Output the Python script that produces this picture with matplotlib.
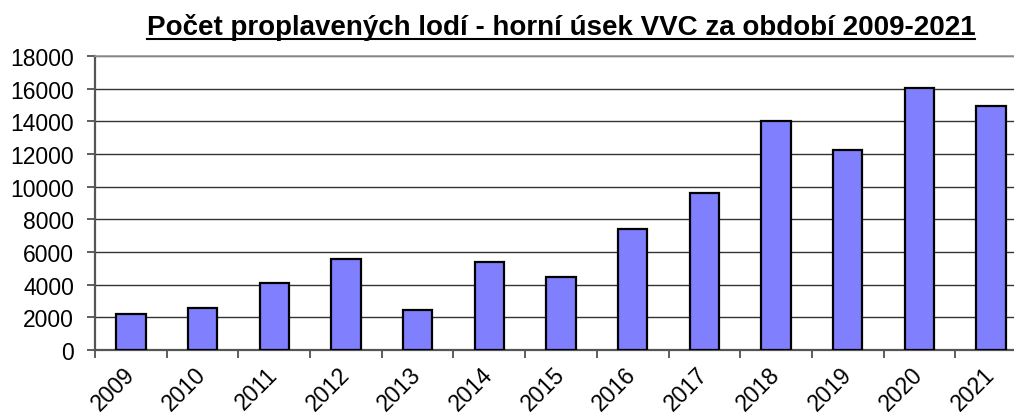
import matplotlib.pyplot as plt
from matplotlib.lines import Line2D
import numpy as np

plt.rcParams['font.family'] = ['Liberation Sans', 'DejaVu Sans']

years = ['2009', '2010', '2011', '2012', '2013', '2014', '2015',
         '2016', '2017', '2018', '2019', '2020', '2021']
ships = [2200, 2600, 4100, 5550, 2470, 5410, 4450,
         7390, 9630, 14020, 12260, 16040, 14940]
title = 'Počet proplavených lodí - horní úsek VVC za období 2009-2021'

fig = plt.figure(figsize=(10.14, 4.14), dpi=100)
# plot area runs a little past the right edge, as in the original
ax = fig.add_axes([95 / 1014, 63 / 414, 932 / 1014, 294 / 414])

x = np.arange(len(years))
ax.bar(x, ships, width=0.41, color='#8080ff', edgecolor='black',
       linewidth=1.6, zorder=3)

ax.set_xlim(-0.5, len(years) - 0.5)
ax.set_ylim(0, 18000)
ax.set_yticks(range(0, 18001, 2000))
ax.yaxis.grid(True, color='#333333', linewidth=1.0, zorder=0)

ax.set_xticks(x)
ax.set_xticklabels(years, rotation=45, ha='right', va='center',
                   rotation_mode='anchor', fontsize=16.5)
ax.set_xticks(np.arange(-0.5, len(years)), minor=True)
ax.tick_params(axis='x', which='major', length=0, pad=15)
ax.tick_params(axis='x', which='minor', length=5.5, width=1.1,
               color='#333333', direction='out')
ax.tick_params(axis='y', length=6, width=1.1, color='#333333',
               pad=9, labelsize=16.5)

for s in ['left', 'bottom']:
    ax.spines[s].set_color('#555555')
    ax.spines[s].set_linewidth(1.6)
ax.spines['top'].set_color('#999999')
ax.spines['top'].set_linewidth(1.2)
ax.spines['right'].set_visible(False)

t = fig.text((95 + 1027) / 2 / 1014, 1 - 35 / 414, title, ha='center',
             va='baseline', fontsize=20, fontweight='bold')

# underline the title
fig.canvas.draw()
bb = t.get_window_extent().transformed(fig.transFigure.inverted())
uy = 1 - 40 / 414
fig.add_artist(Line2D([bb.x0, bb.x1], [uy, uy], color='black',
                      linewidth=1.5, transform=fig.transFigure))

fig.savefig('out.png', dpi=100)
